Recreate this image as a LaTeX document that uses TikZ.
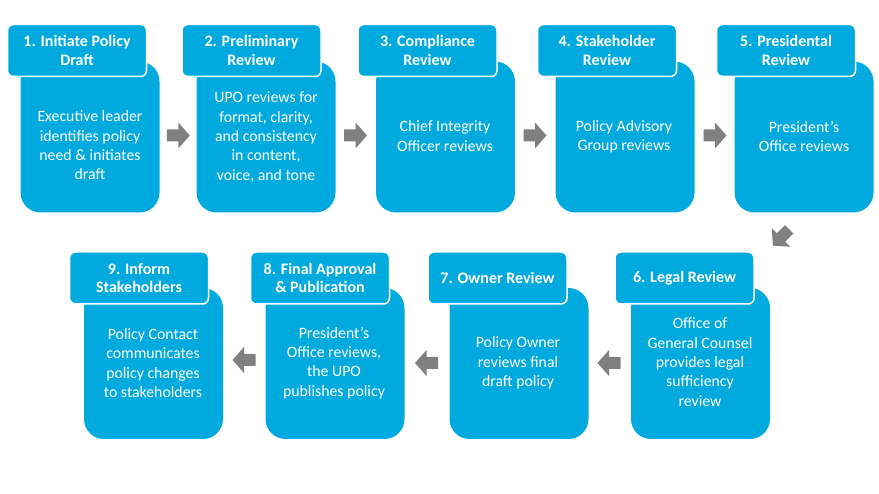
\documentclass[tikz,border=0pt]{standalone}
\usepackage{fontspec}
\setmainfont{Carlito}
\definecolor{pblue}{RGB}{0,170,222}
\definecolor{pgray}{RGB}{128,128,128}
\tikzset{
  bodybox/.style={fill=pblue, draw=none, rounded corners=20pt, minimum width=139pt, minimum height=151pt, inner sep=0pt},
  headbox/.style={fill=pblue, draw=white, line width=1.5pt, rounded corners=6pt, minimum width=139pt, minimum height=52pt, inner sep=0pt, text=white, align=center, font=\fontsize{16}{18.7}\selectfont\bfseries},
  bodytext/.style={text=white, align=center, inner sep=0pt, font=\fontsize{15.8}{19.3}\selectfont},
  blockarrow/.pic={\fill[pgray] (-11.5,-6) -- (0,-6) -- (0,-13) -- (11.5,0) -- (0,13) -- (0,6) -- (-11.5,6) -- cycle;
    \coordinate (-tip) at (11.5,0); \coordinate (-tail) at (-11.5,0);}
}
\begin{document}
\begin{tikzpicture}[x=1pt, y=-1pt]
\useasboundingbox (0,0) rectangle (879,494);
% Row 1 bodies
\node[bodybox] (b1) at (90,137) {};
\node[bodybox] (b2) at (266,137) {};
\node[bodybox] (b3) at (445.5,137) {};
\node[bodybox] (b4) at (625,137) {};
\node[bodybox] (b5) at (804,137) {};
% Row 2 bodies
\node[bodybox] (b9) at (153.5,363.5) {};
\node[bodybox] (b8) at (335,363.5) {};
\node[bodybox] (b7) at (519,363.5) {};
\node[bodybox] (b6) at (700.5,363.5) {};
% Headers
\node[headbox] (h1) at (77,50.5) {1. Initiate Policy\\Draft};
\node[headbox] (h2) at (251.5,50.5) {2. Preliminary\\Review};
\node[headbox] (h3) at (427.5,50.5) {3. Compliance\\Review};
\node[headbox] (h4) at (607,50.5) {4. Stakeholder\\Review};
\node[headbox] (h5) at (786,50.5) {5. Presidental\\Review};
\node[headbox] (h9) at (139,278) {9. Inform\\Stakeholders};
\node[headbox] (h8) at (320,278) {8. Final Approval\\\& Publication};
\node[headbox] (h7) at (497.5,278) {7. Owner Review};
\node[headbox] (h6) at (684.5,278) {6. Legal Review};
% Body texts
\node[bodytext] (t1) at (90,145.5) {Executive leader\\identifies policy\\need \& initiates\\draft};
\node[bodytext] (t2) at (266,137) {UPO reviews for\\format, clarity,\\and consistency\\in content,\\voice, and tone};
\node[bodytext] (t3) at (445,136) {Chief Integrity\\Officer reviews};
\node[bodytext] (t4) at (624,136.5) {Policy Advisory\\Group  reviews};
\node[bodytext] (t5) at (804,136.5) {President’s\\Office reviews};
\node[bodytext] (t9) at (153,363) {Policy Contact\\communicates\\policy changes\\to stakeholders};
\node[bodytext] (t8) at (334,363) {President’s\\Office reviews,\\the UPO\\publishes policy};
\node[bodytext] (t7) at (518,363) {Policy Owner\\reviews final\\draft policy};
\node[bodytext] (t6) at (700,362) {Office of\\General Counsel\\provides legal\\sufficiency\\review};
% Arrows
\pic (a12) at (178.3,135.5) {blockarrow};
\pic (a23) at (355.5,135.5) {blockarrow};
\pic (a34) at (535,135.5) {blockarrow};
\pic (a45) at (715,135.5) {blockarrow};
\pic[rotate=-135] (a56) at (781,237.5) {blockarrow};
\pic[rotate=180] (a67) at (609,363) {blockarrow};
\pic[rotate=180] (a78) at (426.5,363) {blockarrow};
\pic[rotate=180] (a89) at (244,360) {blockarrow};
\end{tikzpicture}
\end{document}
